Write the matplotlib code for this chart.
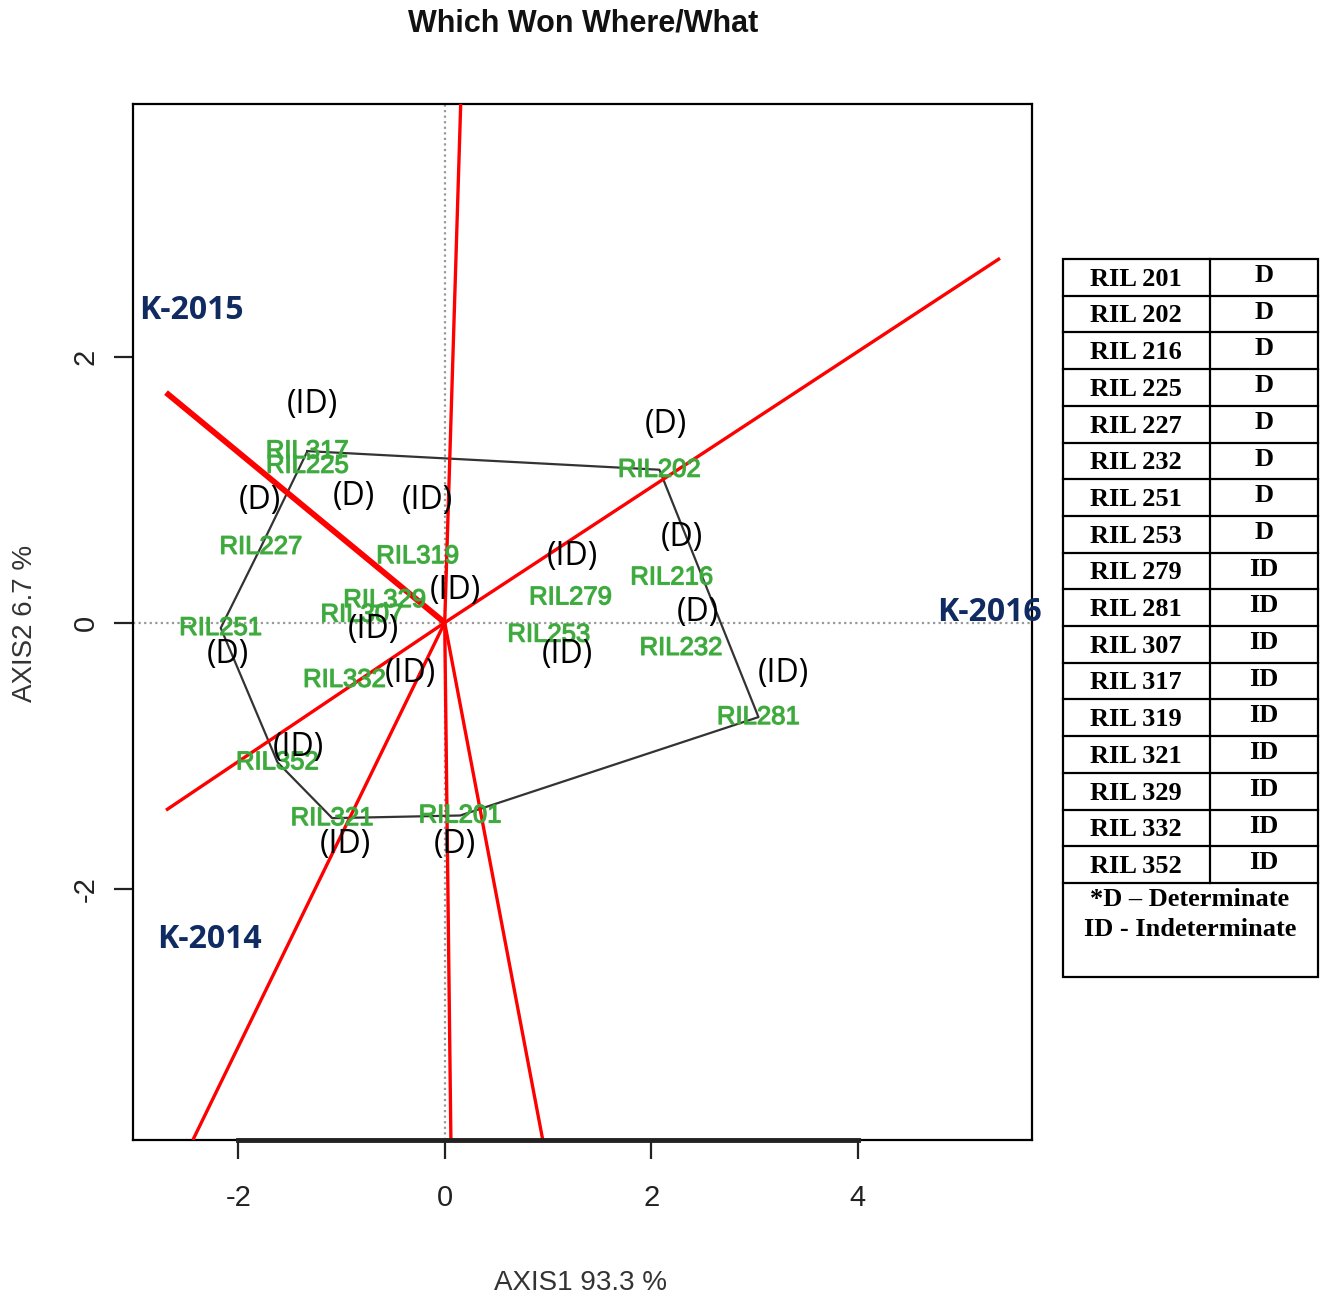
import matplotlib
matplotlib.use("Agg")
import matplotlib.pyplot as plt
from matplotlib.patches import Rectangle
import matplotlib.patheffects as pe

# ---------------- data ----------------
genotypes = ["RIL317", "RIL225", "RIL227", "RIL319", "RIL329", "RIL307", "RIL251",
             "RIL332", "RIL352", "RIL321", "RIL201", "RIL202", "RIL216", "RIL279",
             "RIL253", "RIL232", "RIL281"]
geno_x = [-1.33, -1.33, -1.78, -0.26, -0.58, -0.80, -2.17,
          -0.97, -1.62, -1.09, 0.15, 2.08, 2.20, 1.22,
          1.01, 2.29, 3.04]
geno_y = [1.29, 1.18, 0.57, 0.50, 0.17, 0.06, -0.04,
          -0.43, -1.05, -1.47, -1.45, 1.15, 0.34, 0.19,
          -0.09, -0.19, -0.71]

# growth-habit tags shown on the biplot
habit_text = ["(ID)", "(D)", "(D)", "(D)", "(ID)", "(ID)", "(D)", "(ID)", "(D)",
              "(ID)", "(D)", "(ID)", "(ID)", "(ID)", "(ID)", "(ID)", "(D)"]
habit_x = [-1.28, 2.14, -1.79, -0.88, -0.17, 1.24, 2.30, 0.10, 2.45,
           -0.69, -2.10, 1.19, -0.33, 3.28, -1.42, -0.96, 0.10]
habit_y = [1.64, 1.49, 0.92, 0.95, 0.92, 0.50, 0.64, 0.24, 0.08,
           -0.05, -0.24, -0.24, -0.38, -0.38, -0.94, -1.67, -1.67]

# convex hull (polygon) vertices
hull_order = ["RIL317", "RIL202", "RIL281", "RIL201", "RIL321", "RIL352", "RIL251", "RIL227"]

# rays from the origin (end points)
ray_end_x = [0.155, 5.38, -2.70, -2.70, -2.44, 0.06, 0.95]
ray_end_y = [3.90, 2.74, 1.73, -1.41, -3.89, -3.89, -3.89]

environments = ["K-2015", "K-2016", "K-2014"]
env_x = [-2.96, 5.28, -2.79]
env_y = [2.35, 0.08, -2.38]

x_ticks = [-2, 0, 2, 4]
y_ticks = [-2, 0, 2]

table_ril = ["RIL 201", "RIL 202", "RIL 216", "RIL 225", "RIL 227", "RIL 232", "RIL 251",
             "RIL 253", "RIL 279", "RIL 281", "RIL 307", "RIL 317", "RIL 319", "RIL 321",
             "RIL 329", "RIL 332", "RIL 352"]
table_type = ["D", "D", "D", "D", "D", "D", "D", "D", "ID", "ID", "ID", "ID", "ID", "ID",
              "ID", "ID", "ID"]
table_note = ["*D \u2013 Determinate", "ID - Indeterminate"]

# ---------------- figure ----------------
W, H = 1331, 1300
fig = plt.figure(figsize=(W / 100, H / 100), dpi=100)
ax = fig.add_axes([133 / W, (H - 1140) / H, (1032 - 133) / W, (1140 - 104) / H])
ax.set_xlim(-3.02, 5.69)
ax.set_ylim(-3.89, 3.90)

sans = ["Liberation Sans", "DejaVu Sans"]

# dotted reference lines
ax.axhline(0, color="#999999", ls=(0, (1, 1.5)), lw=1.6, zorder=1)
ax.axvline(0, color="#999999", ls=(0, (1, 1.5)), lw=1.6, zorder=1)

# rays
for i, (ex, ey) in enumerate(zip(ray_end_x, ray_end_y)):
    lw = 4.2 if i == 2 else 2.4
    ax.plot([0, ex], [0, ey], color="red", lw=lw, zorder=3, solid_capstyle="butt")

# hull polygon
idx = [genotypes.index(g) for g in hull_order] + [genotypes.index(hull_order[0])]
ax.plot([geno_x[i] for i in idx], [geno_y[i] for i in idx], color="#333333", lw=1.6, zorder=2)

# genotype labels
for g, x, y in zip(genotypes, geno_x, geno_y):
    ax.text(x, y, g, color="#3daa3d", fontsize=18.5, family=sans, ha="center", va="center",
            zorder=4, alpha=0.9,
            path_effects=[pe.withStroke(linewidth=0.9, foreground="#3daa3d")])

# habit tags
for t, x, y in zip(habit_text, habit_x, habit_y):
    ax.text(x, y, t, color="black", fontsize=23, family=["Open Sans", "DejaVu Sans"],
            ha="center", va="center", zorder=5)

# environment labels
for e, x, y in zip(environments, env_x, env_y):
    ha = "center" if e == "K-2016" else "left"
    ax.text(x, y, e, color="#102a62", fontsize=23, fontweight="bold",
            family=["Open Sans", "DejaVu Sans"], ha=ha, va="center", zorder=6, clip_on=False)

# axes styling (R-like)
for s in ax.spines.values():
    s.set_linewidth(1.6)
ax.set_xticks(x_ticks)
ax.set_yticks(y_ticks)
ax.set_xticklabels([str(v) for v in x_ticks], fontsize=21, family=sans)
ax.set_yticklabels([str(v) for v in y_ticks], fontsize=21, family=sans, rotation=90, va="center")
ax.tick_params(axis="x", length=14, width=1.6, pad=18, colors="#222222")
ax.tick_params(axis="y", length=14, width=1.6, pad=10, colors="#222222")
ax.plot([x_ticks[0], x_ticks[-1]], [-3.89, -3.89], color="#222222", lw=3.5, clip_on=False, zorder=7)

fig.text(580 / W, 1 - 1283 / H, "AXIS1 93.3 %", fontsize=20, family=sans, ha="center",
         va="center", color="#333333")
fig.text(25 / W, 1 - 623 / H, "AXIS2 6.7 %", fontsize=20, family=sans, ha="center",
         va="center", rotation=90, color="#333333")
fig.text(583 / W, 1 - 24 / H, "Which Won Where/What", fontsize=22, family=sans,
         fontweight="bold", ha="center", va="center", color="#111111")

# ---------------- table ----------------
tax = fig.add_axes([1063 / W, (H - 977) / H, (1318 - 1063) / W, (977 - 259) / H])
tax.set_xlim(1063, 1318)
tax.set_ylim(977, 259)
tax.axis("off")
row_h = (883 - 259) / len(table_ril)
serif = ["Liberation Serif", "DejaVu Serif"]
tax.add_patch(Rectangle((1063, 259), 1318 - 1063, 977 - 259, fill=False, lw=1.6,
                        edgecolor="black", clip_on=False))
for i, (r, t) in enumerate(zip(table_ril, table_type)):
    y0 = 259 + i * row_h
    tax.plot([1063, 1318], [y0 + row_h, y0 + row_h], color="black", lw=1.6, clip_on=False)
    tax.text(1136, y0 + row_h * 0.55, r, fontsize=19, fontweight="bold", family=serif,
             ha="center", va="center")
    tax.text(1264, y0 + row_h * 0.45, t, fontsize=19, fontweight="bold", family=serif,
             ha="center", va="center")
tax.plot([1210, 1210], [259, 883], color="black", lw=1.6, clip_on=False)
tax.text(1190, 900, table_note[0], fontsize=19, fontweight="bold", family=serif,
         ha="center", va="center")
tax.text(1190, 930, table_note[1], fontsize=19, fontweight="bold", family=serif,
         ha="center", va="center")

fig.savefig("out.png", dpi=100, facecolor="white")
